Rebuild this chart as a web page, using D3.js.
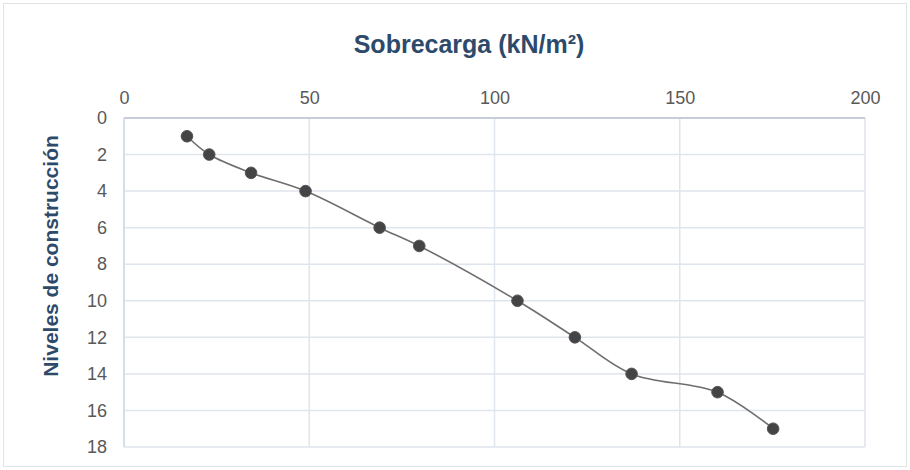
<!DOCTYPE html>
<html><head><meta charset="utf-8">
<script src="https://cdn.jsdelivr.net/npm/d3@7"></script>
<style>body{margin:0;background:#fff}svg{display:block}</style>
</head><body>
<svg id="c" width="910" height="470"></svg>
<script>
const sobrecarga = [17, 23, 34.3, 49, 69, 79.7, 106.2, 121.7, 137, 160.2, 175.2];
const niveles = [1, 2, 3, 4, 6, 7, 10, 12, 14, 15, 17];
const xTicks = [0, 50, 100, 150, 200];
const yTicks = [0, 2, 4, 6, 8, 10, 12, 14, 16, 18];
const title = "Sobrecarga (kN/m²)";
const yTitle = "Niveles de construcción";

const svg = d3.select("#c");
const L = 124, R = 865, T = 118, B = 447;
const x = d3.scaleLinear().domain([0, 200]).range([L, R]);
const y = d3.scaleLinear().domain([0, 18]).range([T, B]);
const FONT = "Liberation Sans, Arial, sans-serif";

svg.append("rect").attr("x", 3.5).attr("y", 3.5).attr("width", 903).attr("height", 463)
  .attr("fill", "#fff").attr("stroke", "#e3e3e3");

// gridlines
svg.append("g").selectAll("line").data(yTicks).join("line")
  .attr("x1", L).attr("x2", R).attr("y1", d => y(d)).attr("y2", d => y(d))
  .attr("stroke", "#dfe5ec").attr("stroke-width", 1.5);
svg.append("g").selectAll("line").data(xTicks).join("line")
  .attr("y1", T).attr("y2", B).attr("x1", d => x(d)).attr("x2", d => x(d))
  .attr("stroke", "#dfe5ec").attr("stroke-width", 1.5);
svg.append("line").attr("x1", L).attr("x2", R).attr("y1", T).attr("y2", T)
  .attr("stroke", "#c5ced8").attr("stroke-width", 2);
svg.append("line").attr("x1", L).attr("x2", L).attr("y1", T).attr("y2", B)
  .attr("stroke", "#d3dae2").attr("stroke-width", 1.5);

// axes labels
const xAxis = d3.axisTop(x).tickValues(xTicks).tickSize(0).tickPadding(0);
const gx = svg.append("g").attr("transform", `translate(0,${T - 14})`).call(xAxis);
gx.select(".domain").remove();
gx.selectAll("text").attr("font-family", FONT).attr("dy", 0)
  .attr("font-size", 18).attr("fill", "#595959");

const yAxis = d3.axisLeft(y).tickValues(yTicks).tickSize(0).tickPadding(0);
const gy = svg.append("g").attr("transform", `translate(${L - 17},0)`).call(yAxis);
gy.select(".domain").remove();
gy.selectAll("text").attr("font-family", FONT)
  .attr("font-size", 18).attr("fill", "#595959");

// titles
svg.append("text").attr("x", 469).attr("y", 53).attr("text-anchor", "middle")
  .attr("font-family", FONT).attr("font-weight", "bold")
  .attr("font-size", 25).attr("fill", "#2d4a6b").text(title);
svg.append("text").attr("transform", `translate(58,256) rotate(-90)`)
  .attr("text-anchor", "middle")
  .attr("font-family", FONT).attr("font-weight", "bold")
  .attr("font-size", 21).attr("fill", "#2d4a6b").text(yTitle);

// line
const pts = sobrecarga.map((v, i) => [v, niveles[i]]);
const line = d3.line().x(d => x(d[0])).y(d => y(d[1])).curve(d3.curveCatmullRom.alpha(0.5));
svg.append("path").attr("d", line(pts)).attr("fill", "none")
  .attr("stroke", "#6e6e6e").attr("stroke-width", 1.6);
svg.append("g").selectAll("circle").data(pts).join("circle")
  .attr("cx", d => x(d[0])).attr("cy", d => y(d[1])).attr("r", 5.8)
  .attr("fill", "#444").attr("stroke", "#555").attr("stroke-width", 1);
</script>
</body></html>
